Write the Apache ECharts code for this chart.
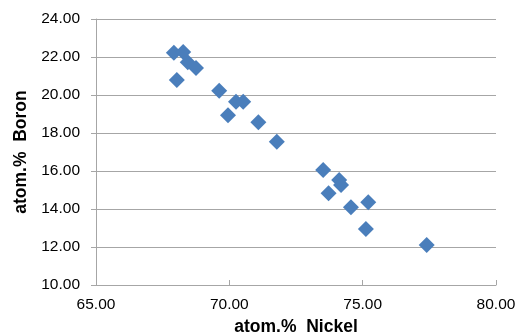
<!DOCTYPE html>
<html lang="en">
<head>
    <meta charset="UTF-8">
    <title>Nickel vs Boron</title>
    <script src="https://cdn.jsdelivr.net/npm/echarts@6/dist/echarts.min.js"></script>
    <style>
        html, body { margin: 0; padding: 0; background: #fff; }
    </style>
</head>
<body>
    <div id="main" style="width: 517px; height: 336px;"></div>
    <script type="text/javascript">
// atom.% Nickel (x) and atom.% Boron (y)
var nickel = [67.92, 68.27, 68.44, 68.75, 68.03, 69.62, 70.25, 70.52, 69.95, 71.09,
              71.78, 73.52, 74.12, 74.19, 73.72, 74.56, 75.21, 75.12, 77.40];
var boron  = [22.23, 22.26, 21.72, 21.42, 20.79, 20.23, 19.65, 19.65, 18.93, 18.56,
              17.54, 16.05, 15.53, 15.26, 14.83, 14.09, 14.35, 12.95, 12.10];

var points = nickel.map(function (x, i) { return [x, boron[i]]; });

var chartDom = document.getElementById('main');
var myChart = echarts.init(chartDom);
var font = 'Liberation Sans, Arial, Helvetica, sans-serif';
var option;

option = {
    animation: false,
    grid: { left: 96, right: 21, top: 19, bottom: 51, containLabel: false, outerBoundsMode: 'none' },
    xAxis: {
        type: 'value',
        min: 65, max: 80, interval: 5,
        name: 'atom.%  Nickel',
        nameLocation: 'middle',
        nameGap: 31,
        nameTextStyle: { fontFamily: font, fontSize: 17.5, fontWeight: 'bold', color: '#000' },
        axisLine: { show: true, lineStyle: { color: '#a6a6a6', width: 1 } },
        axisTick: { show: true, inside: true, length: 5, lineStyle: { color: '#a6a6a6' } },
        splitLine: { show: false },
        axisLabel: {
            margin: 12,
            fontFamily: font, fontSize: 15.5, color: '#000',
            formatter: function (v) { return v.toFixed(2); }
        }
    },
    yAxis: {
        type: 'value',
        min: 10, max: 24, interval: 2,
        name: 'atom.%  Boron',
        nameLocation: 'middle',
        nameGap: 64,
        nameTextStyle: { fontFamily: font, fontSize: 17.5, fontWeight: 'bold', color: '#000' },
        axisLine: { show: true, lineStyle: { color: '#a6a6a6', width: 1 } },
        axisTick: { show: true, inside: false, length: 5, lineStyle: { color: '#a6a6a6' } },
        splitLine: { show: true, lineStyle: { color: '#a6a6a6', width: 1 } },
        axisLabel: {
            margin: 16,
            fontFamily: font, fontSize: 15.5, color: '#000',
            formatter: function (v) { return v.toFixed(2); }
        }
    },
    series: [
        {
            type: 'scatter',
            symbol: 'diamond',
            symbolSize: [16, 16],
            itemStyle: { color: '#4a7ebb', opacity: 1 },
            data: points
        }
    ]
};

option && myChart.setOption(option);
    </script>
</body>
</html>
